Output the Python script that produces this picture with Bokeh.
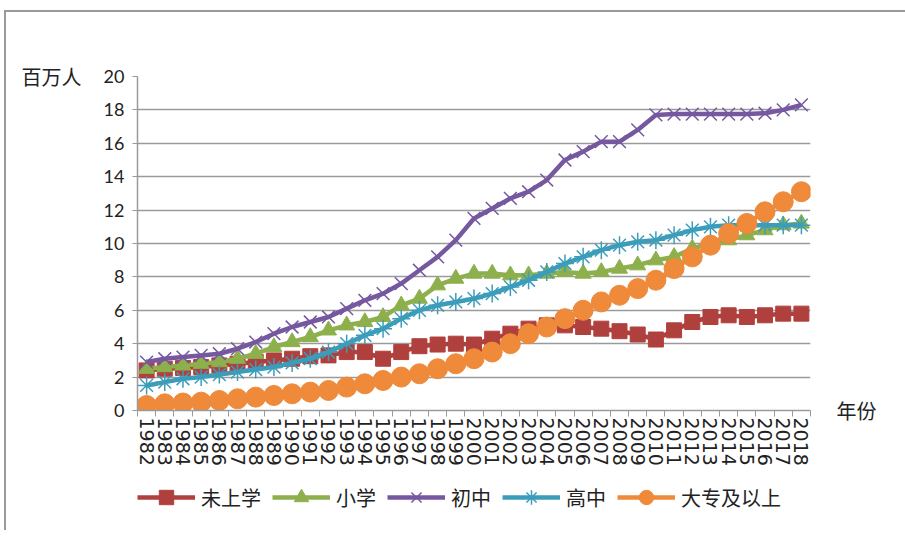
from bokeh.plotting import figure
from bokeh.layouts import column
from bokeh.models import (FixedTicker, Legend, LegendItem, LinearAxis, Range1d)
from bokeh.embed import file_html
from bokeh.resources import INLINE

years = list(range(1982, 2019))
series_names = ["未上学", "小学", "初中", "高中", "大专及以上"]

none_school = [2.4, 2.5, 2.55, 2.6, 2.7, 2.8, 2.9, 3.0, 3.1, 3.25,
               3.3, 3.5, 3.5, 3.1, 3.5, 3.85, 3.95, 4.0, 3.95, 4.3,
               4.6, 4.9, 5.1, 5.1, 5.0, 4.9, 4.75, 4.55, 4.25, 4.8,
               5.3, 5.6, 5.7, 5.6, 5.7, 5.8, 5.8]
primary = [2.5, 2.6, 2.7, 2.8, 2.9, 3.1, 3.4, 3.8, 4.1, 4.4,
           4.8, 5.1, 5.3, 5.6, 6.3, 6.7, 7.5, 7.9, 8.2, 8.2,
           8.1, 8.1, 8.2, 8.3, 8.2, 8.3, 8.5, 8.7, 9.0, 9.2,
           9.7, 10.0, 10.2, 10.5, 10.8, 11.1, 11.2]
junior = [2.9, 3.1, 3.2, 3.3, 3.4, 3.7, 4.1, 4.6, 5.0, 5.3,
          5.6, 6.1, 6.6, 7.0, 7.6, 8.4, 9.2, 10.2, 11.5, 12.1,
          12.7, 13.1, 13.8, 15.0, 15.5, 16.1, 16.1, 16.8, 17.7, 17.75,
          17.75, 17.75, 17.75, 17.75, 17.8, 18.0, 18.3]
senior = [1.5, 1.7, 1.9, 2.0, 2.15, 2.3, 2.45, 2.6, 2.85, 3.1,
          3.5, 4.0, 4.5, 4.9, 5.5, 6.0, 6.3, 6.5, 6.7, 7.0,
          7.4, 7.8, 8.3, 8.8, 9.2, 9.6, 9.9, 10.1, 10.2, 10.5,
          10.8, 11.0, 11.1, 11.1, 11.1, 11.1, 11.1]
college = [0.3, 0.4, 0.45, 0.5, 0.6, 0.7, 0.8, 0.9, 1.0, 1.1,
           1.2, 1.4, 1.6, 1.8, 2.0, 2.2, 2.5, 2.8, 3.1, 3.5,
           4.0, 4.6, 5.0, 5.5, 6.0, 6.5, 6.9, 7.3, 7.8, 8.5,
           9.2, 9.9, 10.6, 11.2, 11.9, 12.5, 13.1]

y_ticks = list(range(0, 21, 2))

colors = ["#B0403D", "#8DB04C", "#7658A0", "#3C9DBA", "#EE8A3A"]
markers = ["square", "triangle", "x", "asterisk", "circle"]
msizes = [15, 16, 18, 18, 20]
values = [none_school, primary, junior, senior, college]

p = figure(width=899, height=458, output_backend="svg", toolbar_location=None,
           x_range=Range1d(years[0] - 0.5, years[-1] + 0.5),
           y_range=Range1d(0, 20),
           min_border_left=131, min_border_right=95, min_border_top=64,
           min_border_bottom=60)
p.outline_line_color = None
p.background_fill_color = "white"
p.border_fill_color = "white"

# grid
p.xgrid.grid_line_color = None
p.ygrid.ticker = FixedTicker(ticks=y_ticks)
p.ygrid.grid_line_color = "#9a9a9a"
p.ygrid.grid_line_width = 1.5

# y axis
p.yaxis.ticker = FixedTicker(ticks=y_ticks)
p.yaxis.axis_line_color = "#9a9a9a"
p.yaxis.axis_line_width = 1.5
p.yaxis.major_tick_line_color = "#9a9a9a"
p.yaxis.major_tick_out = 5
p.yaxis.major_tick_in = 0
p.yaxis.minor_tick_line_color = None
p.yaxis.major_label_text_font = "Lato"
p.yaxis.major_label_text_font_size = "18px"
p.yaxis.major_label_text_color = "#222222"
p.yaxis.major_label_standoff = 8
p.yaxis.axis_label = "百万人"
p.yaxis.axis_label_orientation = "horizontal"
p.yaxis.axis_label_align = "end"
p.yaxis.axis_label_standoff = 19
p.yaxis.axis_label_text_font = "Noto Sans CJK SC"
p.yaxis.axis_label_text_font_size = "20px"
p.yaxis.axis_label_text_font_style = "normal"
p.yaxis.axis_label_text_color = "#222222"

# x axis
minor = [y - 0.5 for y in years] + [years[-1] + 0.5]
p.xaxis.ticker = FixedTicker(ticks=years, minor_ticks=minor)
p.xaxis.axis_line_color = "#9a9a9a"
p.xaxis.axis_line_width = 1.5
p.xaxis.major_tick_line_color = None
p.xaxis.minor_tick_line_color = "#9a9a9a"
p.xaxis.minor_tick_out = 6
p.xaxis.minor_tick_in = 0
p.xaxis.major_label_orientation = "vertical"
p.xaxis.major_label_text_font = "DejaVu Sans"
p.xaxis.major_label_text_font_size = "19px"
p.xaxis.major_label_text_color = "#222222"
p.xaxis.major_label_standoff = 1

# right-side axis: "年份" as a tick label at the level of the x axis
ax_r = LinearAxis(ticker=FixedTicker(ticks=[0]), axis_line_color=None,
                  major_tick_line_color=None, minor_tick_line_color=None,
                  major_label_overrides={0: "年份"}, major_label_standoff=20,
                  major_label_text_font="Noto Sans CJK SC",
                  major_label_text_font_size="20px",
                  major_label_text_color="#222222")
p.add_layout(ax_r, "right")

for vals, c, m, s in zip(values, colors, markers, msizes):
    p.line(years, vals, line_color=c, line_width=4.5)
    if m in ("x", "asterisk"):
        p.scatter(years, vals, marker=m, size=s, line_color=c, line_width=1.5,
                  fill_color=c)
    else:
        p.scatter(years, vals, marker=m, size=s, line_color=c, fill_color=c)

# legend strip below the chart (its renderers fall outside its 0..1 ranges)
pl = figure(width=899, height=60, output_backend="svg", toolbar_location=None,
            x_range=Range1d(0, 1), y_range=Range1d(0, 1), min_border=0,
            x_axis_location=None, y_axis_location=None)
pl.outline_line_color = None
pl.xgrid.visible = False
pl.ygrid.visible = False
items = []
for name, vals, c, m in zip(series_names, values, colors, markers):
    r1 = pl.line(years, vals, line_color=c, line_width=4.5)
    r2 = pl.scatter(years, vals, marker=m, line_color=c, fill_color=c,
                    line_width=1.5 if m in ("x", "asterisk") else 1)
    items.append(LegendItem(label=name, renderers=[r1, r2]))
legend = Legend(items=items, orientation="horizontal", location=(0, 15),
                label_text_font="Noto Sans CJK SC", label_text_font_size="20px",
                label_text_color="#222222", glyph_width=58, glyph_height=36,
                spacing=11, label_standoff=6, border_line_color=None,
                background_fill_alpha=0, padding=0, margin=0)
pl.add_layout(legend)

layout = column(p, pl, spacing=0,
                styles={"margin-left": "4px", "margin-top": "10px",
                        "border-left": "2px solid #9a9a9a",
                        "border-top": "2px solid #9a9a9a"})

open("out.html", "w").write(file_html(layout, INLINE))
